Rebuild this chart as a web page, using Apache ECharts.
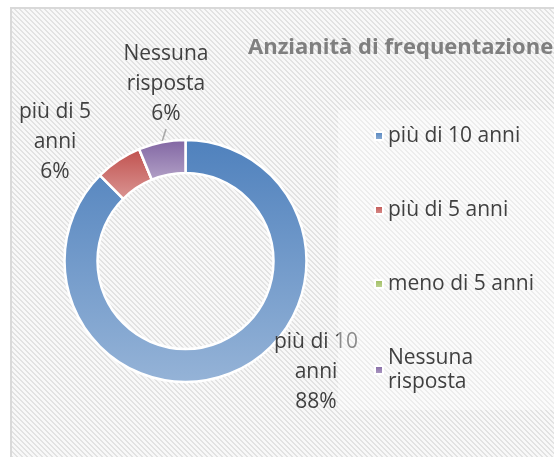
<!DOCTYPE html>
<html>
<head>
<meta charset="utf-8">
<script src="https://cdn.jsdelivr.net/npm/echarts@6/dist/echarts.min.js"></script>
<style>
    html, body { margin: 0; padding: 0; background: #fff; }
    #chart { width: 554px; height: 457px; }
</style>
</head>
<body>
<div id="chart"></div>
<script>
// dati
const titleText = 'Anzianità di frequentazione'
const categories = ['più di 10 anni', 'più di 5 anni', 'meno di 5 anni', 'Nessuna risposta']
const values = [14, 1, 0, 1]
const topColors = ['#4F81BD', '#C0504D', '#9BBB59', '#8064A2']
const bottomColors = ['#95B3D7', '#DA9694', '#C3D69B', '#B3A2C7']

// label positions (per slice)
const labelPos = [
    {x: 316, y: 372},
    {x: 55, y: 142},
    {x: 0, y: 0},
    {x: 166, y: 84},
]

// striped background
const stripe = document.createElement('canvas')
stripe.width = 5
stripe.height = 5
const sctx = stripe.getContext('2d')
const img = sctx.createImageData(5, 5)
for (let y = 0; y < 5; y++) {
    for (let x = 0; x < 5; x++) {
        const i = (y * 5 + x) * 4
        const d = (x - y + 5) % 5
        const c = d < 2 ? 226 : 248
        img.data[i] = c
        img.data[i + 1] = c
        img.data[i + 2] = c
        img.data[i + 3] = 255
    }
}
sctx.putImageData(img, 0, 0)

const textFont = 'Open Sans'
const myChart = echarts.init(document.getElementById('chart'))

myChart.setOption({
    animation: false,
    graphic: [
        {
            type: 'rect',
            z: -10,
            silent: true,
            shape: {x: 11, y: 8, width: 600, height: 500},
            style: {
                fill: {image: stripe, repeat: 'repeat'},
                stroke: '#D9D9D9',
                lineWidth: 2,
            },
        },
    ],
    title: {
        text: titleText,
        left: 248,
        top: 37,
        padding: 0,
        textStyle: {
            color: '#7F7F7F',
            fontFamily: textFont,
            fontWeight: 'bold',
            fontSize: 22,
        },
    },
    legend: {
        orient: 'vertical',
        left: 338,
        top: 110,
        padding: [14, 60, 16, 36],
        backgroundColor: 'rgba(255,255,255,0.4)',
        itemWidth: 8,
        itemHeight: 8,
        itemGap: 50,
        icon: 'rect',
        selectedMode: false,
        textStyle: {
            color: '#404040',
            fontFamily: textFont,
            fontSize: 21,
            lineHeight: 24,
        },
        data: categories,
        formatter(name) {
            return name === 'Nessuna risposta' ? 'Nessuna\nrisposta' : name
        },
    },
    series: [
        {
            type: 'pie',
            center: [185.5, 261],
            radius: [88, 121],
            startAngle: 90,
            clockwise: true,
            avoidLabelOverlap: false,
            itemStyle: {
                borderColor: '#fff',
                borderWidth: 2.5,
            },
            label: {
                show: true,
                color: '#404040',
                fontFamily: textFont,
                fontSize: 21,
                lineHeight: 30,
                align: 'center',
                formatter(params) {
                    if (!params.value) return ''
                    const name = params.name.replace(/ (\S+)$/, '\n$1')
                    return name + '\n' + Math.round(params.percent) + '%'
                },
            },
            labelLine: {
                show: true,
                length: 8,
                length2: 0,
                lineStyle: {color: '#A6A6A6', width: 1.5},
            },
            labelLayout(params) {
                const p = labelPos[params.dataIndex]
                return {x: p.x, y: p.y, align: 'center', verticalAlign: 'middle'}
            },
            emphasis: {disabled: true},
            data: categories.map((name, i) => ({
                name,
                value: values[i],
                itemStyle: {
                    color: new echarts.graphic.LinearGradient(0, 0, 0, 1, [
                        {offset: 0, color: topColors[i]},
                        {offset: 1, color: bottomColors[i]},
                    ]),
                },
                labelLine: {show: i === 3},
            })),
        },
    ],
})
</script>
</body>
</html>
